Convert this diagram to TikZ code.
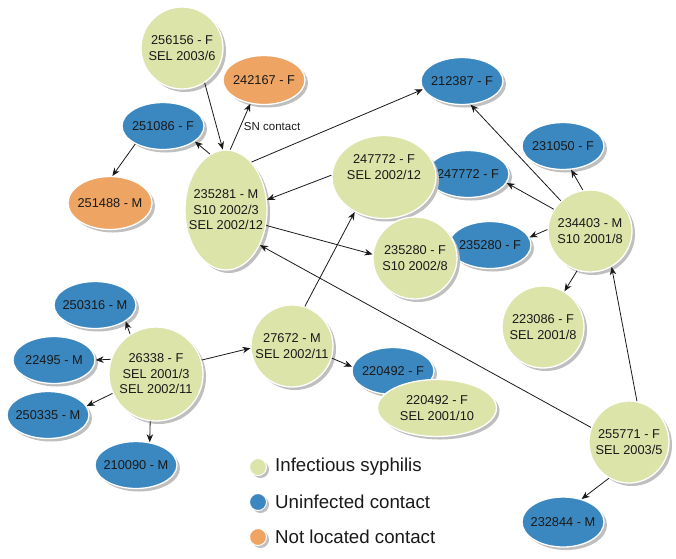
\documentclass[tikz,border=0pt]{standalone}
\usepackage{fontspec}
\setmainfont{Liberation Sans}
\usetikzlibrary{shapes.geometric,shadows,arrows.meta}
\definecolor{infgreen}{RGB}{221,228,170}
\definecolor{uninfblue}{RGB}{59,136,192}
\definecolor{notorange}{RGB}{238,165,100}

\begin{document}
\begin{tikzpicture}[x=1pt,y=-1pt,
    person/.style={ellipse,draw=white,line width=1.3pt,inner sep=-12pt,align=center,
        font=\fontsize{12.8}{15.5}\selectfont,text=black!90,
        drop shadow={shadow xshift=3pt,shadow yshift=-3pt,fill=black!25,opacity=1}},
    inf/.style={person,fill=infgreen,minimum width=82pt,minimum height=82pt},
    uninf/.style={person,fill=uninfblue,minimum width=82pt,minimum height=47pt},
    notloc/.style={person,fill=notorange,minimum width=82pt,minimum height=49pt},
    link/.style={-{Stealth[length=8pt,width=6.5pt]},line width=0.8pt,black!90},
    legdot/.style={circle,draw=white,line width=1pt,minimum size=17pt,inner sep=0pt,
        drop shadow={shadow xshift=2.5pt,shadow yshift=-2.5pt,fill=black!25,opacity=1}},
    legtext/.style={anchor=west,inner sep=0pt,text=black!90,font=\fontsize{18.7}{21}\selectfont}]
    \useasboundingbox (0,0) rectangle (676,558);
    \node[uninf] (c251086) at (163,126) {251086 - F};
    \node[uninf] (c212387) at (462,81) {212387 - F};
    \node[uninf] (c231050) at (563,146) {231050 - F};
    \node[uninf] (c247772) at (468,174) {247772 - F};
    \node[uninf] (c235280) at (490,245) {235280 - F};
    \node[uninf] (c220492) at (393,371) {220492 - F};
    \node[uninf,minimum height=50pt] (c232844) at (563,522) {232844 - M};
    \node[uninf] (c250316) at (95,305) {250316 - M};
    \node[uninf] (c22495) at (54,360) {22495 - M};
    \node[uninf] (c250335) at (48,415) {250335 - M};
    \node[uninf] (c210090) at (136,465) {210090 - M};
    \node[notloc] (n242167) at (264,80) {242167 - F};
    \node[notloc,minimum width=84pt,minimum height=53pt] (n251488) at (110,203) {251488 - M};
    \node[inf] (p256156) at (182,48) {256156 - F\\SEL 2003/6};
    \node[inf,minimum height=120pt] (p235281) at (226,210) {235281 - M\\S10 2002/3\\SEL 2002/12};
    \node[inf,minimum width=104pt,minimum height=83pt] (p247772) at (384,177) {247772 - F\\SEL 2002/12\\\strut};
    \node[inf,minimum width=84pt] (p234403) at (590,231) {234403 - M\\S10 2001/8};
    \node[inf,minimum width=84pt] (p235280) at (415,258) {235280 - F\\S10 2002/8};
    \node[inf] (p223086) at (543,327) {223086 - F\\SEL 2001/8};
    \node[inf,minimum width=119pt,minimum height=57pt] (p220492) at (437,408) {220492 - F\\SEL 2001/10};
    \node[inf,minimum width=80pt] (p255771) at (629,442) {255771 - F\\SEL 2003/5};
    \node[inf,minimum size=94pt] (p26338) at (156,374) {26338 - F\\SEL 2001/3\\SEL 2002/11};
    \node[inf] (p27672) at (292,346) {27672 - M\\SEL 2002/11};
    \draw[link] (p256156.-57) -- (p235281.93);
    \draw[link] (p235281.86) -- node[midway,right,text=black!90,font=\fontsize{11.5}{13}\selectfont] {SN contact} (n242167.240);
    \draw[link] (p235281.106) -- (c251086.-26);
    \draw[link] (c251086.213) -- (n251488.85);
    \draw[link] (p235281.62) -- (c212387.192);
    \draw[link] (p247772.178) -- (p235281.14);
    \draw[link] (p235281.-21) -- (p235280.175);
    \draw[link] (p255771.159) -- (p235281.-46);
    \draw[link] (p27672.72) -- (p247772.230);
    \draw[link] (p26338.17) -- (p27672.183);
    \draw[link] (p27672.-17) -- (c220492.174);
    \draw[link] (p26338.123) -- (c250316.-28);
    \draw[link] (p26338.162) -- (c22495.0);
    \draw[link] (p26338.204) -- (c250335.13);
    \draw[link] (p26338.263) -- (c210090.59);
    \draw[link] (p234403.134) -- (c212387.-70);
    \draw[link] (p234403.100) -- (c231050.-71);
    \draw[link] (p234403.149) -- (c247772.-13);
    \draw[link] (p234403.178) -- (c235280.11);
    \draw[link] (p234403.252) -- (p223086.59);
    \draw[link] (p255771.79) -- (p234403.-59);
    \draw[link] (p255771.241) -- (c232844.51);
    \node[legdot,fill=infgreen] (kinf) at (258,467) {};
    \node[legdot,fill=uninfblue] (kuninf) at (258,502) {};
    \node[legdot,fill=notorange] (knotloc) at (258,537) {};
    \node[legtext] (tinf) at (275,467) {Infectious syphilis};
    \node[legtext] (tuninf) at (275,502) {Uninfected contact};
    \node[legtext] (tnotloc) at (275,537) {Not located contact};
\end{tikzpicture}
\end{document}
